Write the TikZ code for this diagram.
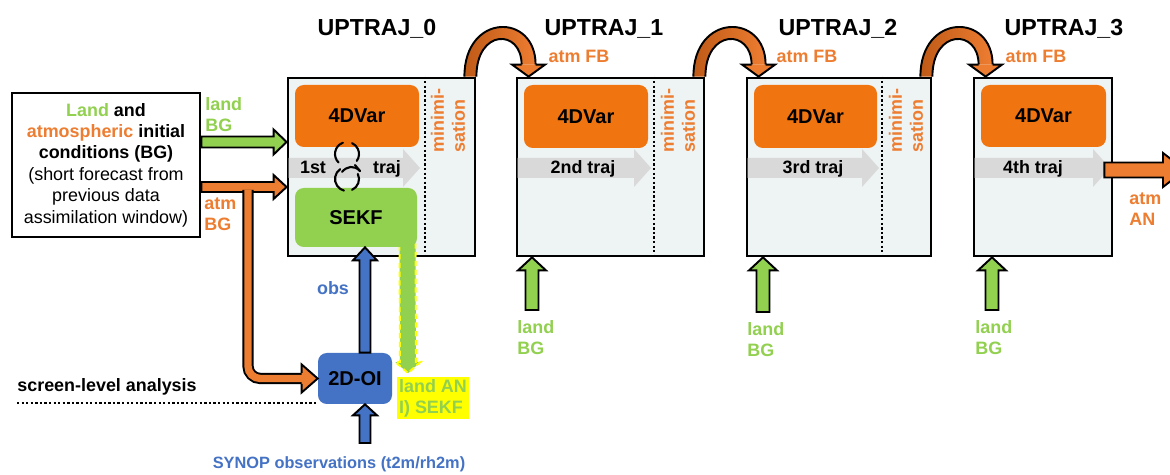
\documentclass[tikz,border=0pt]{standalone}
\usepackage{fontspec}
\setmainfont{Liberation Sans}
\usetikzlibrary{calc}

\definecolor{orBox}{HTML}{F07511}
\definecolor{orT}{HTML}{ED7D31}
\definecolor{orD}{HTML}{BF5A17}
\definecolor{grL}{HTML}{92D050}
\definecolor{blB}{HTML}{4472C4}
\definecolor{frameBg}{HTML}{EEF3F3}
\definecolor{trajGray}{HTML}{D9D9D9}
\definecolor{hiYellow}{HTML}{FFFF00}

\newcommand{\fsA}{\fontsize{10.2pt}{11.9pt}\selectfont}
\newcommand{\fsB}{\fontsize{11.4pt}{13pt}\selectfont}
\newcommand{\fsC}{\fontsize{13.2pt}{15pt}\selectfont}
\newcommand{\fsD}{\fontsize{9.3pt}{11pt}\selectfont}

% straight block arrow: [style]{start}{tip}{body half width}{head half width}{head length}
\newcommand{\bkarrow}[6][]{%
  \coordinate (bas) at (#2);
  \coordinate (bae) at (#3);
  \coordinate (bab) at ($(bae)!#6*0.02cm!(bas)$);
  \path[#1] ($(bas)!#4*0.02cm!90:(bae)$) -- ($(bab)!#4*0.02cm!90:(bae)$)
    -- ($(bab)!#5*0.02cm!90:(bae)$) -- (bae)
    -- ($(bab)!#5*0.02cm!-90:(bae)$) -- ($(bab)!#4*0.02cm!-90:(bae)$)
    -- ($(bas)!#4*0.02cm!-90:(bae)$) -- cycle;
}
% arrow head only, open at the base where the body joins: [style]{base}{tip}{body half}{head half}
\newcommand{\bkhead}[5][]{%
  \coordinate (ahb) at (#2);
  \coordinate (ahe) at (#3);
  \filldraw[#1] ($(ahb)!#4*0.02cm!90:(ahe)$) -- ($(ahb)!#5*0.02cm!90:(ahe)$) -- (ahe)
    -- ($(ahb)!#5*0.02cm!-90:(ahe)$) -- ($(ahb)!#4*0.02cm!-90:(ahe)$);
}
% curved feedback arrow hopping from one trajectory box to the next
\newcommand{\hoparrow}[2]{%
  \coordinate (hf) at ($(#1.north east)+(-6,0)$);
  \coordinate (ht) at ($(#2.north west)+(13,0)$);
  \coordinate (hb) at ($(ht)+(0,-12)$);
  \shade[left color=orD, right color=orT]
    ($(hf)+(-6,0)$) .. controls ($(hf)+(-6,-64)$) and ($(hb)+(7,-52)$) .. ($(hb)+(7,0)$)
    -- ($(hb)+(-7,0)$) .. controls ($(hb)+(-7,-36)$) and ($(hf)+(6,-48)$) .. ($(hf)+(6,0)$) -- cycle;
  \draw[hopline] ($(hf)+(-6,0)$) .. controls ($(hf)+(-6,-64)$) and ($(hb)+(7,-52)$) .. ($(hb)+(7,0)$);
  \draw[hopline] ($(hb)+(-7,0)$) .. controls ($(hb)+(-7,-36)$) and ($(hf)+(6,-48)$) .. ($(hf)+(6,0)$);
  \bkhead[hophead]{hb}{ht}{7}{16.5}
}

\tikzset{
  uframe/.style={draw, line width=1.6pt, fill=frameBg, inner sep=0pt},
  sepline/.style={line width=1.3pt, dash pattern=on 1.3pt off 1.3pt},
  varbox/.style={fill=orBox, rounded corners=5pt, inner sep=0pt, font=\fsB\bfseries},
  sekfbox/.style={fill=grL, rounded corners=5pt, inner sep=0pt, font=\fsB\bfseries},
  oibox/.style={fill=blB, rounded corners=5pt, inner sep=0pt, font=\fsB\bfseries},
  icbox/.style={draw, line width=1.5pt, fill=white, inner sep=0pt, align=center,
    font=\fontsize{10.2pt}{12.2pt}\selectfont},
  minis/.style={rotate=90, anchor=west, align=left, inner sep=0pt, text=orT, font=\fsA\bfseries},
  trajtext/.style={anchor=base, inner sep=0pt, font=\fsA\bfseries},
  title/.style={anchor=base, inner sep=0pt, font=\fsC\bfseries},
  lbl/.style={align=left, inner sep=0pt, font=\fsA\bfseries},
  cyclemark/.style={line width=1.2pt, line cap=round},
  garrow/.style={fill=grL, draw=black, line width=1.1pt},
  oarrow/.style={fill=orT, draw=black, line width=1.1pt},
  barrow/.style={fill=blB, draw=black, line width=1.1pt},
  trajarrow/.style={fill=trajGray},
  anarrow/.style={fill=grL, draw=hiYellow, line width=1.1pt, dash pattern=on 3pt off 2pt},
  obranch/.style={line width=1.1pt, double=orT, double distance=4.2pt, rounded corners=7pt},
  hopline/.style={draw=black, line width=1.1pt},
  hophead/.style={fill=orT, draw=black, line width=1.1pt},
  scrline/.style={line width=1.3pt, dash pattern=on 1.3pt off 1.3pt},
  wh/.style 2 args={minimum width=#1*0.02cm, minimum height=#2*0.02cm},
}

\begin{document}
\begin{tikzpicture}[x=0.02cm, y=-0.02cm]
\clip (0,0) rectangle (1170,475);
\fill[white] (0,0) rectangle (1170,475);

% outer-loop trajectory boxes
\node[uframe, wh={187}{178}] (u0) at (381.5,167) {};
\node[uframe, wh={187}{178}] (u1) at (610.5,167) {};
\node[uframe, wh={184}{178}] (u2) at (839,167) {};
\node[uframe, wh={138}{178}] (u3) at (1043,167) {};

% minimisation columns
\draw[sepline] (425,0 |- u0.north) -- (425,0 |- u0.south);
\draw[sepline] (654,0 |- u1.north) -- (654,0 |- u1.south);
\draw[sepline] (882,0 |- u2.north) -- (882,0 |- u2.south);
\node[minis] at (448,153) {minimi-\\sation};
\node[minis] at (678,153) {minimi-\\sation};
\node[minis] at (906,153) {minimi-\\sation};

% trajectory arrows
\bkarrow[trajarrow]{$(u0.west)+(2,1)$}{420,168}{10}{19}{17}
\bkarrow[trajarrow]{$(u1.west)+(2,1)$}{651,168}{10}{19}{17}
\bkarrow[trajarrow]{$(u2.west)+(2,1)$}{879,168}{10}{19}{17}
\bkarrow[trajarrow]{$(u3.west)+(2,1)$}{1110,168}{10}{19}{17}

% 4D-Var boxes
\node[varbox, wh={124}{62}] (v0) at (357,116) {4DVar};
\node[varbox, wh={124}{63}] (v1) at (586,116.5) {4DVar};
\node[varbox, wh={123}{63}] (v2) at (815.5,116.5) {4DVar};
\node[varbox, wh={125}{62}] (v3) at (1043.5,116) {4DVar};

\node[trajtext] at (313,174) {1st};
\node[trajtext] at (387,174) {traj};
\node[trajtext] at (583,174) {2nd traj};
\node[trajtext] at (813,174) {3rd traj};
\node[trajtext] at (1033,174) {4th traj};

% 2D optimal interpolation box
\node[oibox, wh={74}{51}] (oi) at (355,378.5) {2D-OI};

% land analysis leaving the SEKF
\bkarrow[anarrow]{$(u0.south)+(26,-14)$}{408,373}{8}{12.5}{11}
\node[sekfbox, wh={122}{59}] (sekf) at (356,217.5) {SEKF};
\node[lbl, text=grL, fill=hiYellow, anchor=west, inner sep=1pt] at (397,398) {land AN\\I) SEKF};

% coupling symbol between 4DVar and SEKF
\begin{scope}[cyclemark]
  \draw (347,154) ++(35:12) arc[start angle=35, end angle=-65, radius=12];
  \draw (347,154) ++(-110:12) arc[start angle=-110, end angle=-225, radius=12];
  \draw (347,179) ++(-125:12) arc[start angle=-125, end angle=-255, radius=12];
  \draw (347,179) ++(-25:12) arc[start angle=-25, end angle=65, radius=12];
  \draw (342,172) .. controls (347,166) and (354,165) .. (360,171);
  \draw (355,165) -- (360,171);
\end{scope}

% titles and feedback labels
\node[title] (t0) at (377,36) {UPTRAJ\_0};
\node[title] (t1) at (604,36) {UPTRAJ\_1};
\node[title] (t2) at (838,36) {UPTRAJ\_2};
\node[title] (t3) at (1064,36) {UPTRAJ\_3};
\node[lbl, text=orT, anchor=base] at (579,63) {atm FB};
\node[lbl, text=orT, anchor=base] at (807,63) {atm FB};
\node[lbl, text=orT, anchor=base] at (1036,63) {atm FB};

\hoparrow{u0}{u1}
\hoparrow{u1}{u2}
\hoparrow{u2}{u3}

% initial conditions
\node[icbox, wh={188}{144}] (ic) at (106,165)
  {\bfseries\textcolor{grL}{Land} and\\
   \bfseries\textcolor{orT}{atmospheric} initial\\
   \bfseries conditions (BG)\\
   (short forecast from\\
   previous data\\
   assimilation window)};

\bkarrow[garrow]{ic.east |- 0,142}{u0.west |- 0,142}{5.5}{12.5}{13}
\bkarrow[oarrow]{ic.east |- 0,187}{u0.west |- 0,187}{5}{12}{13}
\node[lbl, text=grL, anchor=west] at (205,115) {land\\BG};
\node[lbl, text=orT, anchor=west] at (204,214) {atm\\BG};

% background branch towards the screen-level analysis
\coordinate (branch) at (248,190);
\draw[obranch] (branch) |- ($(oi.west)+(-15,0)$);
\bkhead[oarrow]{$(oi.west)+(-16,0)$}{oi.west}{5.5}{14}

% observations
\bkarrow[barrow]{$(oi.north)+(10,0)$}{$(sekf.south)+(9,0)$}{5.5}{12}{13}
\node[lbl, text=blB] at (333,288) {obs};
\coordinate (syn) at (365,443);
\bkarrow[barrow]{syn}{$(oi.south)+(10,0)$}{5.5}{12}{11}
\node[lbl, text=blB, font=\fsD\bfseries] at (339,464) {SYNOP observations (t2m/rh2m)};

\node[lbl, anchor=west] at (17,387) {screen-level analysis};
\draw[scrline] (17,403) -- (oi.west |- 0,403);

% land background for the later trajectories
\coordinate (lb1) at (532,310);
\coordinate (lb2) at (763,312);
\coordinate (lb3) at (992,310);
\bkarrow[garrow]{lb1}{lb1 |- u1.south}{6.5}{14}{13}
\bkarrow[garrow]{lb2}{lb2 |- u2.south}{6.5}{14}{13}
\bkarrow[garrow]{lb3}{lb3 |- u3.south}{6.5}{14}{13}
\node[lbl, text=grL, anchor=west] at (517,337.5) {land\\BG};
\node[lbl, text=grL, anchor=west] at (747,339.5) {land\\BG};
\node[lbl, text=grL, anchor=west] at (975,337.5) {land\\BG};

% final atmospheric analysis
\coordinate (atmout) at (1185,170);
\bkarrow[oarrow]{$(u3.east)+(-9,3)$}{atmout}{7.5}{17}{22}
\node[lbl, text=orT, anchor=west] at (1129,209) {atm\\AN};
\end{tikzpicture}
\end{document}
